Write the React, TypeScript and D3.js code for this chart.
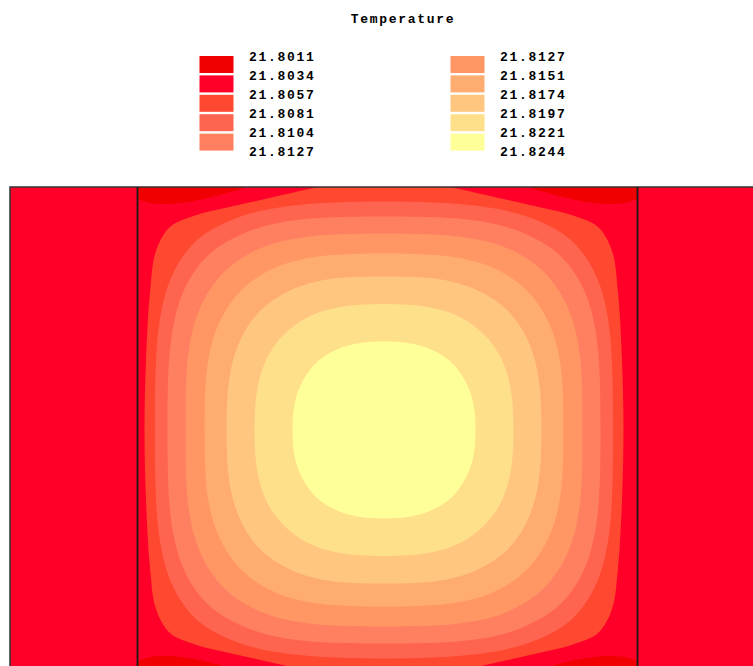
import React from 'react';
import * as d3 from 'd3';

// legend labels: left column then right column
const leftLabels = ['21.8011', '21.8034', '21.8057', '21.8081', '21.8104', '21.8127'];
const rightLabels = ['21.8127', '21.8151', '21.8174', '21.8197', '21.8221', '21.8244'];
// one colour per band, coldest first
const bandColors = [
  '#F00000',
  '#FF0028',
  '#FF4830',
  '#FF6450',
  '#FF8060',
  '#FF9664',
  '#FFAC70',
  '#FFC680',
  '#FFE08A',
  '#FFFF99'
];

// band outlines 3..10 in the upper-left quarter, as [left, up] offsets from the hot spot,
// running from the horizontal axis round to the vertical one (mirrored to the other quarters)
const bandOutlines = [
  // 21.8057 (reaches the top wall)
  [[47.9, 0], [47.6, 14], [46.8, 27.5], [45.6, 35.8], [42.8, 40.6], [37.5, 43.0], [30.5, 44.7], [22.5, 46.5], [15, 48.2], [7, 49.8], [0, 50.5]],
  // 21.8081
  [[45.8, 0], [44.9, 21.6], [42.3, 31.1], [37.8, 37.6], [31.2, 41.7], [21.6, 44.4], [0, 45.7]],
  // 21.8104
  [[43.3, 0], [42.4, 19.3], [39.8, 28.4], [35.3, 34.8], [28.8, 39.0], [19.6, 41.7], [0, 42.7]],
  // 21.8127
  [[39.7, 0], [38.9, 16.9], [36.3, 25.5], [32.0, 31.6], [25.7, 35.9], [17.1, 38.4], [0, 39.3]],
  // 21.8151
  [[35.9, 0], [35.1, 14.3], [32.6, 22.2], [28.5, 28.0], [22.6, 32.1], [14.6, 34.5], [0, 35.3]],
  // 21.8174
  [[31.5, 0], [30.7, 11.7], [28.4, 18.7], [24.6, 24.0], [19.2, 27.7], [12.0, 30.0], [0, 30.7]],
  // 21.8197
  [[25.9, 0], [25.2, 8.9], [23.2, 14.8], [19.8, 19.3], [15.2, 22.6], [9.2, 24.5], [0, 25.2]],
  // 21.8221
  [[18.3, 0], [17.8, 5.7], [16.2, 9.9], [13.7, 13.3], [10.3, 15.7], [5.9, 17.2], [0, 17.7]]
];
const hotSpot = [49.3, 48.6];
// coldest patch in the top-left corner of the cavity (mirrored to the others)
const coldCap = [
  [-1, -1], [-1, 1.8], [0.6, 2.6], [2.6, 3.2], [5.3, 3.4], [8.6, 3.2],
  [11.9, 2.7], [15.3, 1.9], [18.6, 1.0], [21.4, 0], [22, -1]
];
const cavityW = 100;
const cavityH = 97.2;
const wallW = 25.5;

const W = 753;
const H = 666;

export default function App() {
  const x = d3.scaleLinear().domain([-wallW, cavityW + wallW]).range([10, 765]);
  const y = d3.scaleLinear().domain([0, cavityH]).range([187, 673]);

  const line = d3
    .line<number[]>()
    .x((d) => x(d[0]))
    .y((d) => y(d[1]))
    .curve(d3.curveCatmullRomClosed);

  const [cx, cy] = hotSpot;
  // mirror a quarter outline into a full ring round the hot spot
  const ring = (q: number[][]) => {
    const rev = [...q].reverse();
    const out: number[][] = [];
    q.forEach(([ox, oy]) => out.push([cx - ox, cy - oy]));
    rev.slice(1).forEach(([ox, oy]) => out.push([cx + ox, cy - oy]));
    q.slice(1).forEach(([ox, oy]) => out.push([cx + ox, cy + oy]));
    rev.slice(1, -1).forEach(([ox, oy]) => out.push([cx - ox, cy + oy]));
    return line(out) as string;
  };

  const caps = [
    coldCap,
    coldCap.map(([u, v]) => [cavityW - u, v]),
    coldCap.map(([u, v]) => [u, cavityH - v]),
    coldCap.map(([u, v]) => [cavityW - u, cavityH - v])
  ];

  const rowY = d3.scaleLinear().domain([0, 1]).range([56, 75.4]);
  const labelY = d3.scaleLinear().domain([0, 1]).range([57, 76]);
  const font = {
    fontFamily: '"Liberation Mono", monospace',
    fontSize: 13,
    fontWeight: 600,
    letterSpacing: 1.7,
    fill: '#000'
  } as const;

  const legendCol = (labels: string[], colors: string[], sx: number, tx: number) => (
    <g>
      {colors.map((c, i) => (
        <rect key={`s${i}`} x={sx} y={rowY(i)} width={34} height={17} fill={c} />
      ))}
      {labels.map((t, i) => (
        <text key={`t${i}`} x={tx} y={labelY(i)} dominantBaseline="central" {...font}>
          {t}
        </text>
      ))}
    </g>
  );

  const cavity = { x: x(0), y: y(0), width: x(cavityW) - x(0), height: y(cavityH) - y(0) };

  return (
    <svg
      width={W}
      height={H}
      style={{ position: 'absolute', left: 0, top: 0, background: '#fff' }}
    >
      <defs>
        <clipPath id="cavity">
          <rect {...cavity} />
        </clipPath>
      </defs>

      <text x={403} y={19} textAnchor="middle" dominantBaseline="central" {...font}>
        Temperature
      </text>
      {legendCol(leftLabels, bandColors.slice(0, 5), 199.5, 249)}
      {legendCol(rightLabels, bandColors.slice(5), 450.5, 500)}

      {/* side walls */}
      <rect x={x(-wallW)} y={y(0)} width={x(0) - x(-wallW)} height={cavity.height} fill={bandColors[1]} />
      <rect x={x(cavityW)} y={y(0)} width={x(cavityW + wallW) - x(cavityW)} height={cavity.height} fill={bandColors[1]} />

      {/* cavity */}
      <g clipPath="url(#cavity)">
        <rect {...cavity} fill={bandColors[1]} />
        {caps.map((c, i) => (
          <path key={`cap${i}`} d={line(c) as string} fill={bandColors[0]} />
        ))}
        {bandOutlines.map((q, i) => (
          <path key={`band${i}`} d={ring(q)} fill={bandColors[i + 2]} />
        ))}
      </g>

      {/* frame */}
      <rect
        x={x(-wallW)}
        y={y(0)}
        width={x(cavityW + wallW) - x(-wallW)}
        height={cavity.height}
        fill="none"
        stroke="#333"
        strokeWidth={1.5}
      />
      <line x1={x(0)} x2={x(0)} y1={y(0)} y2={y(cavityH)} stroke="#1a1a1a" strokeWidth={1.8} />
      <line x1={x(cavityW)} x2={x(cavityW)} y1={y(0)} y2={y(cavityH)} stroke="#1a1a1a" strokeWidth={1.8} />
    </svg>
  );
}
